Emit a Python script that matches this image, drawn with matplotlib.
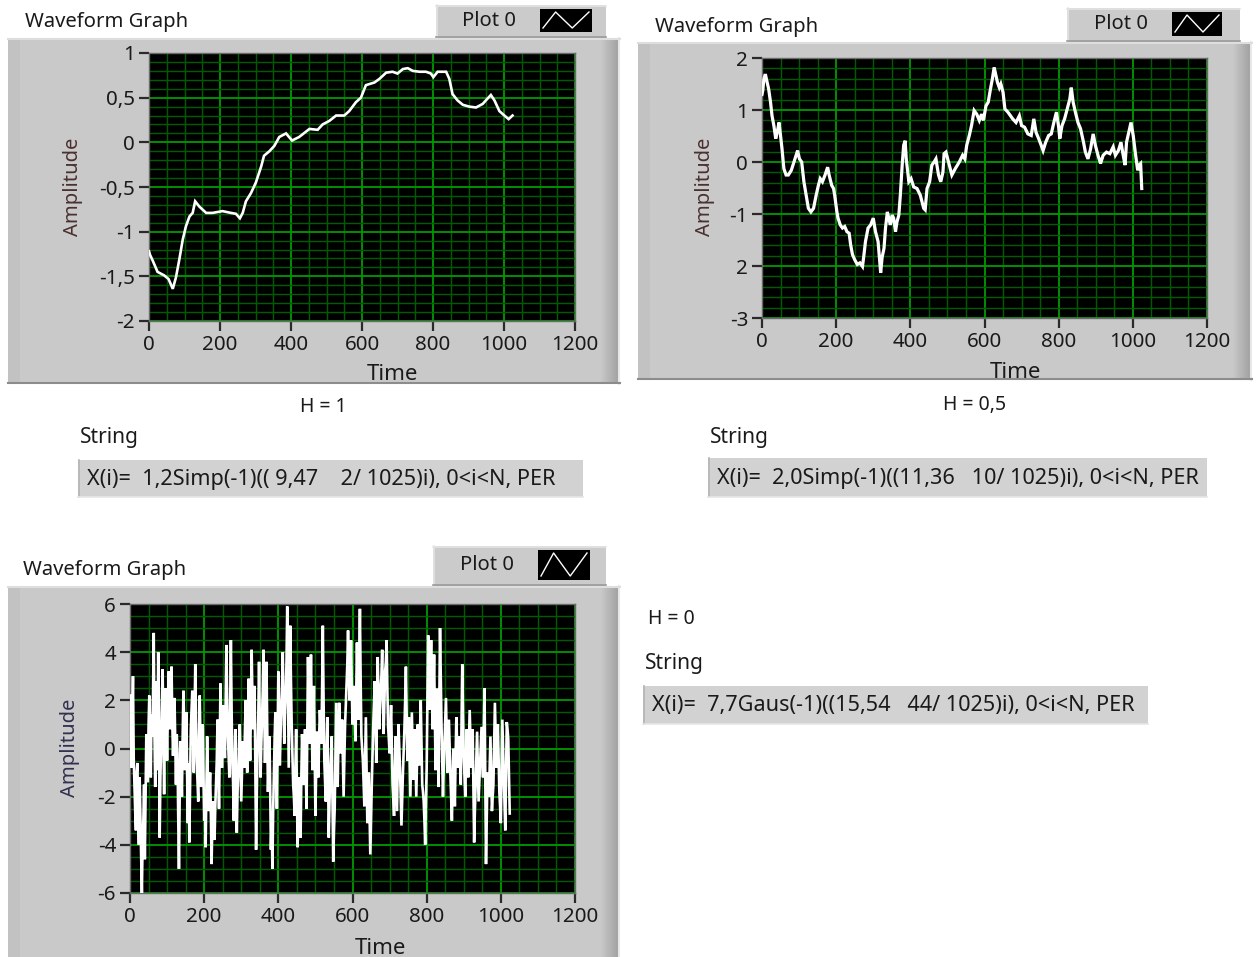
import matplotlib
matplotlib.use("Agg")
import matplotlib.pyplot as plt
from matplotlib.patches import Rectangle
from matplotlib.lines import Line2D
from matplotlib.ticker import FixedLocator, MultipleLocator
import numpy as np

# ---------------------------------------------------------------- data
# H = 1 : smooth fractal walk
h1_time = [0, 3, 10, 24, 43, 55, 67, 76, 85, 95,
           104, 114, 123, 130, 142, 161, 179, 207, 231, 245,
           256, 264, 273, 287, 301, 316, 324, 339, 353, 367,
           386, 403, 423, 452, 475, 489, 508, 527, 550, 564,
           583, 597, 611, 635, 649, 668, 686, 700, 715, 729,
           743, 762, 780, 794, 801, 813, 837, 846, 855, 869,
           884, 902, 921, 940, 949, 963, 973, 987, 1001, 1013,
           1024]
h1_vals = [-1.22, -1.26, -1.32, -1.45, -1.49, -1.53, -1.64, -1.51, -1.32, -1.09,
           -0.94, -0.83, -0.79, -0.66, -0.72, -0.79, -0.79, -0.77, -0.79, -0.80,
           -0.85, -0.79, -0.66, -0.57, -0.45, -0.27, -0.15, -0.10, -0.04, 0.06,
           0.10, 0.02, 0.06, 0.15, 0.14, 0.20, 0.24, 0.30, 0.30, 0.35,
           0.45, 0.50, 0.64, 0.67, 0.71, 0.78, 0.79, 0.77, 0.82, 0.83,
           0.80, 0.79, 0.79, 0.77, 0.73, 0.79, 0.79, 0.71, 0.54, 0.47,
           0.42, 0.40, 0.39, 0.43, 0.47, 0.53, 0.47, 0.35, 0.30, 0.26,
           0.30]

# H = 0,5 : Brownian-like walk
h05_time = [0, 2, 5, 9, 14, 18, 23, 27, 32, 37, 41, 46, 50, 54, 59, 65, 71, 79,
            86, 92, 96, 101, 107, 113, 119, 125, 132, 139, 146, 152, 157, 163,
            170, 177, 181, 188, 193, 196, 202, 205, 211, 217, 223, 229, 235, 239,
            244, 250, 257, 264, 271, 275, 279, 286, 293, 300, 306, 313, 316, 320,
            324, 329, 333, 338, 342, 346, 351, 355, 360, 364, 369, 373, 378, 382,
            386, 389, 396, 402, 409, 418, 427, 436, 440, 445, 452, 458, 464, 469,
            476, 482, 488, 491, 496, 503, 512, 521, 532, 541, 547, 552, 559, 565,
            572, 579, 586, 592, 597, 604, 610, 616, 621, 626, 631, 635, 640, 644,
            650, 655, 663, 670, 676, 685, 694, 700, 708, 717, 726, 733, 739, 746,
            753, 758, 765, 773, 780, 787, 794, 800, 803, 809, 816, 823, 830, 834,
            839, 845, 852, 859, 867, 872, 879, 886, 893, 899, 906, 913, 920, 929,
            938, 947, 953, 961, 968, 974, 979, 983, 989, 995, 1001, 1007, 1013,
            1017, 1021, 1024]
h05_vals = [1.30, 1.37, 1.59, 1.69, 1.53, 1.40, 1.15, 0.89, 0.70, 0.45, 0.57, 0.76,
            0.51, 0.25, -0.13, -0.25, -0.25, -0.16, 0.00, 0.13, 0.22, 0.06, 0.00,
            -0.38, -0.64, -0.89, -0.96, -0.89, -0.64, -0.45, -0.32, -0.38, -0.25,
            -0.10, -0.25, -0.45, -0.51, -0.64, -0.96, -1.08, -1.21, -1.27, -1.24,
            -1.34, -1.37, -1.59, -1.78, -1.88, -1.97, -1.94, -2.01, -1.78, -1.53,
            -1.27, -1.21, -1.08, -1.34, -1.53, -1.78, -2.13, -1.83, -1.66, -1.27,
            -0.96, -1.08, -1.21, -1.02, -1.08, -1.34, -1.15, -1.02, -0.64, -0.06,
            0.32, 0.41, 0.06, -0.38, -0.32, -0.48, -0.51, -0.64, -0.89, -0.92,
            -0.51, -0.38, -0.06, 0.00, 0.06, -0.25, -0.38, -0.19, 0.16, 0.19, 0.00,
            -0.25, -0.13, 0.00, 0.13, 0.06, 0.32, 0.51, 0.70, 0.99, 0.92, 0.80,
            0.92, 0.80, 1.08, 1.15, 1.40, 1.59, 1.82, 1.66, 1.53, 1.43, 1.50, 1.34,
            1.02, 0.96, 0.89, 0.83, 0.76, 0.89, 0.70, 0.67, 0.54, 0.51, 0.83, 0.57,
            0.45, 0.32, 0.22, 0.38, 0.51, 0.54, 0.76, 0.96, 0.67, 0.45, 0.70, 0.83,
            1.02, 1.21, 1.43, 1.15, 0.96, 0.76, 0.64, 0.38, 0.19, 0.06, 0.25, 0.54,
            0.32, 0.13, -0.03, 0.13, 0.19, 0.16, 0.29, 0.13, 0.22, 0.38, 0.13,
            -0.06, 0.38, 0.57, 0.76, 0.51, 0.16, -0.16, -0.06, -0.03, -0.51]

# H = 0 : Gaussian noise, read every 2 samples
# samples 0, 4, 8, ...
h0_even = [2.2, -0.8, 3.0, -1.5, -3.4, -0.6, -4.0, -2.9, -6.0, -3.0, -4.6, 0.6, -1.4,
           2.2, -1.2, 0.5, 4.8, -1.6, 1.2, 4.0, -3.7, 0.2, 3.3, -1.9, 2.5,
           -0.5, 3.2, 0.8, 3.4, -0.3, 2.1, -1.5, -0.2, -5.0, 0.3, -2.0, 2.4, -0.9,
           1.5, -3.1, -3.9, 0.8, 2.4, -1.0, 3.5, -0.5, -2.2, 2.2, -1.6, 1.0,
           -3.0, -4.1, 0.5, -2.6, -1.0, -4.8, -2.2, -3.8, -1.5, 1.2, -2.5, 2.7, -0.8,
           1.8, -0.4, 4.3, 0.5, -1.2, 4.5, -0.6, -3.0, 0.8, -3.5, -1.0, 1.0,
           -2.2, 0.3, -0.8, 2.0, -1.0, 2.9, -0.5, 4.1, 0.8, 2.6, -4.2, 0.0, 3.6,
           -1.2, 1.2, 4.1, -0.6, 3.6, -1.8, 0.5, -4.2, -5.0, -1.0, 1.5, -2.5,
           3.2, -0.7, 1.8, 4.0, 0.2, 2.2, 5.9, -0.8, 5.1, 1.0, -1.5, -2.8, 0.8,
           -4.1, -1.2, -3.7, 0.6, -1.5, 0.8, -2.5, 3.8, 0.2, 3.9, -0.9, 2.6,
           -2.8, 0.7, -1.2, 1.6, 0.2, 5.1, -0.5, -2.2, 1.3, -3.7, -1.0, 0.5, -4.7,
           -2.5, 1.9, -1.6, 1.9, -0.2, 1.2, -2.0, 1.0, 2.5, 4.9, 2.0, 4.5,
           1.0, 2.6, 0.3, 4.4, 1.2, 5.8, 0.5, -0.5, -2.4, 1.3, -3.1, -1.0, -4.4,
           -1.5, 1.0, 2.8, -0.6, 3.8, 0.8, 2.5, 4.1, 0.6, 3.2, 4.5, 0.9,
           -0.2, 1.8, -1.5, -2.8, 0.5, -2.6, 1.0, -0.8, -3.2, -1.0, 0.8, 3.4, -0.5,
           1.3, -2.0, 1.5, -1.3, 0.8, -2.0, 1.0, -0.7, 2.0, -1.5, -2.2, -4.0,
           -0.8, 4.7, 1.6, 4.5, 0.8, 3.9, -0.9, 2.5, -1.6, 5.0, 1.0, -2.0, 0.2,
           2.1, -1.0, 1.2, -1.1, -3.0, 0.0, -2.4, 1.3, -0.8, 0.5, -1.5, 3.5,
           -0.3, -2.0, 0.8, -1.2, 1.6, -0.8, 0.8, -3.9, -1.5, 0.7, -2.2, -0.5, 0.9,
           -1.2, 2.5, -4.8, -1.0, -2.0, 0.5, -2.6, -1.5, 1.9, -0.8, 1.0, -1.8,
           -3.1, 1.2, -1.2, -3.4, 1.1, 0.4, -2.7]
# samples 2, 6, 10, ...
h0_odd = [0.5, 1.2, -0.4, -2.6, -1.0, -2.8, -1.2, -4.4, -3.8, -1.5, -1.9, -0.8, 0.9,
          0.3, 1.4, 2.1, 0.6, 2.8, -0.9, 1.1, -1.2, 1.9, 0.4, 0.9, 1.3,
          1.5, 1.9, 2.5, 1.2, 0.8, 0.2, 0.6, -2.8, -2.0, -0.8, 0.5, 1.0, 0.4,
          -1.0, -0.6, -1.5, 1.6, 0.8, 1.4, 1.2, -1.4, 0.3, 0.2, -0.3, -0.9,
          -2.2, -1.6, -1.2, -1.8, -2.6, -3.1, -2.9, -2.4, -0.5, -0.7, 0.2, 0.9, 0.6,
          0.4, 1.9, 2.0, -0.4, 1.8, 1.6, -1.4, -0.9, -1.4, -1.8, 0.2, -0.6,
          -0.9, -0.2, 0.8, 0.4, 1.1, 0.9, 1.6, 2.2, 1.7, -0.8, -1.8, 1.4, 1.0,
          0.1, 2.4, 1.5, 1.2, 0.8, -0.6, -1.6, -3.0, -2.6, 0.4, -0.2, 0.5,
          1.1, 0.6, 2.6, 1.9, 1.5, 3.6, 2.4, 2.0, 2.8, -0.2, -2.0, -0.8, -1.6,
          -2.5, -2.6, -1.2, -0.4, -0.2, -0.9, 0.6, 1.8, 1.9, 1.4, 0.7, 0.0,
          -0.9, -0.3, 0.4, 0.9, 2.4, 2.0, -1.4, -0.3, -1.0, -2.2, -0.2, -2.0, -3.4,
          -0.4, 0.2, 0.3, 0.8, 0.5, -0.3, -0.4, 1.8, 3.5, 3.2, 3.0, 2.6,
          1.8, 1.4, 2.2, 2.6, 3.4, 2.8, 0.0, -1.4, -0.6, -0.9, -1.8, -2.6, -2.9,
          -0.2, 1.9, 1.0, 1.5, 2.2, 1.6, 3.0, 2.2, 1.9, 3.6, 2.5, 0.4,
          0.8, 0.2, -2.1, -1.0, -1.0, -0.8, 0.1, -2.0, -2.1, -0.1, 2.0, 1.4, 0.4,
          -0.4, -0.2, 0.1, -0.2, -0.6, -0.5, 0.2, 0.6, 0.3, -1.8, -3.0, -2.2,
          2.0, 3.0, 3.0, 2.5, 2.4, 1.4, 0.8, 0.4, 1.8, 3.0, -0.4, -0.8, 1.2,
          0.5, 0.1, 0.0, -2.0, -1.4, -1.2, -0.4, 0.2, -0.1, -0.5, 1.0, 1.4,
          -1.2, -0.6, -0.2, 0.2, 0.4, 0.0, -1.6, -2.6, -0.4, -0.8, -1.4, 0.2, -0.1,
          0.6, -1.2, -2.8, -1.6, -0.8, -1.0, -2.0, 0.2, 0.5, 0.1, -0.4, -2.4,
          -1.0, 0.0, -2.3, -1.2, 0.8, -1.2]
h0_step = 2

# axis ticks and labels
x_ticks = [0, 200, 400, 600, 800, 1000, 1200]
x_labels = ["0", "200", "400", "600", "800", "1000", "1200"]
g1_yticks = [1, 0.5, 0, -0.5, -1, -1.5, -2]
g1_ylabels = ["1", "0,5", "0", "-0,5", "-1", "-1,5", "-2"]
g2_yticks = [2, 1, 0, -1, -2, -3]
g2_ylabels = ["2", "1", "0", "-1", "2", "-3"]
g3_yticks = [6, 4, 2, 0, -2, -4, -6]
g3_ylabels = ["6", "4", "2", "0", "-2", "-4", "-6"]

g1_caption = "H = 1"
g2_caption = "H = 0,5"
g3_caption = "H = 0"
g1_string = "X(i)=  1,2Simp(-1)(( 9,47    2/ 1025)i), 0<i<N, PER"
g2_string = "X(i)=  2,0Simp(-1)((11,36   10/ 1025)i), 0<i<N, PER"
g3_string = "X(i)=  7,7Gaus(-1)((15,54   44/ 1025)i), 0<i<N, PER"

# merge the two H = 0 readings into one series
h0_vals = np.empty(len(h0_even) + len(h0_odd))
h0_vals[0::2] = h0_even
h0_vals[1::2] = h0_odd
h0_time = np.arange(len(h0_vals)) * h0_step

# ---------------------------------------------------------------- figure
W, H = 1258, 957
fig = plt.figure(figsize=(W / 100, H / 100), dpi=100)
fig.patch.set_facecolor("white")
FONT = ["Noto Sans", "DejaVu Sans"]
TXT = "#1a1a1a"


def fx(px):
    return px / W


def fy(py):
    return 1 - py / H


def box(x0, y0, x1, y1, color, z=0.0):
    r = Rectangle((fx(x0), fy(y1)), (x1 - x0) / W, (y1 - y0) / H,
                  transform=fig.transFigure, facecolor=color,
                  edgecolor="none", zorder=z)
    fig.add_artist(r)
    return r


def hline(x0, x1, y, color, lw=1.0, z=0.2):
    fig.add_artist(Line2D([fx(x0), fx(x1)], [fy(y), fy(y)],
                          transform=fig.transFigure, color=color, lw=lw, zorder=z))


def vline(x, y0, y1, color, lw=1.0, z=0.2):
    fig.add_artist(Line2D([fx(x), fx(x)], [fy(y0), fy(y1)],
                          transform=fig.transFigure, color=color, lw=lw, zorder=z))


def panel(x0, y0, x1, y1):
    base = box(x0, y0, x1, y1, "#c9c9c9", 0.0)
    # darker bevel towards the right edge
    n = 20
    for i in range(n):
        g = 0.79 - 0.17 * (i / (n - 1))
        box(x1 - n + i, y0, x1 - n + i + 1, y1, (g, g, g), 0.05)
    vline(x1 - 1, y0, y1, "#e8e8e8", 1.5, 0.1)
    # soft left shading
    box(x0, y0, x0 + 12, y1, "#c2c2c2", 0.05)
    hline(x0, x1, y0 + 0.5, "#dedede", 1.5, 0.1)
    hline(x0, x1, y1 - 1, "#8c8c8c", 1.5, 0.1)
    return base


def legend(x0, y0, x1, y1, sx0, sx1):
    box(x0, y0, x1, y1, "#cbcbcb", 0.3)
    hline(x0, x1, y0 + 0.5, "#e4e4e4", 1.2, 0.35)
    vline(x0 + 0.5, y0, y1, "#e4e4e4", 1.2, 0.35)
    hline(x0, x1, y1 - 1, "#9a9a9a", 1.2, 0.35)
    box(sx0, y0 + 4, sx1, y1 - 6, "black", 0.4)
    w = sx1 - sx0
    top, bot = y0 + 7, y1 - 10
    xs = [sx0 + 3, sx0 + 0.3 * w, sx0 + 0.62 * w, sx1 - 3]
    ys = [bot, top, bot, top]
    fig.add_artist(Line2D([fx(v) for v in xs], [fy(v) for v in ys],
                          transform=fig.transFigure, color="white", lw=1.0,
                          zorder=0.45))
    fig.text(fx((x0 + sx0) / 2 + 1), fy((y0 + y1) / 2 - 1), "Plot 0",
             fontsize=14.5, family=FONT, color=TXT, ha="center", va="center",
             zorder=0.5)


def graph(px, yticks, ylabels, ylim, yminor, time, vals, lw):
    x0, y0, x1, y1 = px
    ax = fig.add_axes([fx(x0), fy(y1), (x1 - x0) / W, (y1 - y0) / H])
    ax.set_facecolor("black")
    ax.plot(time, vals, color="white", lw=lw, solid_joinstyle="miter", zorder=3)
    ax.set_xlim(0, 1200)
    ax.set_ylim(*ylim)
    ax.xaxis.set_major_locator(FixedLocator(x_ticks))
    ax.set_xticklabels(x_labels)
    ax.xaxis.set_minor_locator(MultipleLocator(50))
    ax.yaxis.set_major_locator(FixedLocator(yticks))
    ax.set_yticklabels(ylabels)
    ax.yaxis.set_minor_locator(MultipleLocator(yminor))
    ax.grid(which="minor", color="#005c00", lw=1.0, zorder=1)
    ax.grid(which="major", color="#009a00", lw=1.3, zorder=1.2)
    ax.tick_params(which="minor", length=0)
    ax.tick_params(which="major", length=7, width=1.6, color="#2a2a2a",
                   labelsize=14.8, labelcolor=TXT, pad=3)
    for lab in ax.get_xticklabels() + ax.get_yticklabels():
        lab.set_family(FONT)
    for s in ax.spines.values():
        s.set_color("#6a6a6a")
        s.set_linewidth(1.0)
    ax.set_zorder(1)
    return ax


def clipped_text(x, y, s, clip_rect, **kw):
    t = fig.text(fx(x), fy(y), s, **kw)
    cx0, cy0, cx1, cy1 = clip_rect
    clip = Rectangle((fx(cx0), fy(cy1)), (cx1 - cx0) / W, (cy1 - cy0) / H,
                     transform=fig.transFigure)
    t.set_clip_path(clip)
    return t


def string_box(x0, y0, x1, y1, text):
    box(x0, y0, x1, y1, "#d2d2d2", 0.2)
    vline(x0 + 0.5, y0, y1, "#b4b4b4", 1.2, 0.25)
    hline(x0, x1, y1 - 0.5, "#e6e6e6", 1.2, 0.25)
    fig.text(fx(x0 + 9), fy((y0 + y1) / 2 + 1), text, fontsize=15.6,
             family=FONT, color=TXT, ha="left", va="center", zorder=0.3)


TITLE_FS = 14.6
AXLAB_FS = 14.5

# ---------------------------------------------------------------- graph 1
panel(8, 38, 620, 384)
legend(436, 5, 606, 38, 540, 592)
fig.text(fx(25), fy(22), "Waveform Graph", fontsize=TITLE_FS, family=FONT,
         color=TXT, ha="left", va="center")
graph((149, 53, 575, 321), g1_yticks, g1_ylabels, (-2, 1), 0.1,
      h1_time, h1_vals, 1.9)
fig.text(fx(73), fy(187), "Amplitude", fontsize=AXLAB_FS, family=FONT,
         color="#4a3030", rotation=90, ha="center", va="center")
clipped_text(392, 375, "Time", (8, 330, 620, 382), fontsize=16, family=FONT,
             color=TXT, ha="center", va="center")

# ---------------------------------------------------------------- graph 2
panel(638, 42, 1252, 380)
legend(1067, 8, 1240, 42, 1172, 1222)
fig.text(fx(655), fy(27), "Waveform Graph", fontsize=TITLE_FS, family=FONT,
         color=TXT, ha="left", va="center")
graph((762, 58, 1207, 318), g2_yticks, g2_ylabels, (-3, 2), 0.2,
      h05_time, h05_vals, 2.3)
fig.text(fx(705), fy(187), "Amplitude", fontsize=AXLAB_FS, family=FONT,
         color="#4a3030", rotation=90, ha="center", va="center")
clipped_text(1015, 372, "Time", (638, 330, 1252, 378), fontsize=16, family=FONT,
             color=TXT, ha="center", va="center")

# ---------------------------------------------------------------- graph 3
panel(8, 586, 620, 970)
legend(433, 546, 606, 586, 538, 590)
fig.text(fx(23), fy(570), "Waveform Graph", fontsize=TITLE_FS, family=FONT,
         color=TXT, ha="left", va="center")
graph((130, 604, 575, 893), g3_yticks, g3_ylabels, (-6, 6), 0.5,
      h0_time, h0_vals, 1.9)
fig.text(fx(70), fy(748), "Amplitude", fontsize=AXLAB_FS, family=FONT,
         color="#303050", rotation=90, ha="center", va="center")
fig.text(fx(380), fy(949), "Time", fontsize=16, family=FONT,
         color=TXT, ha="center", va="center")

# ---------------------------------------------------------------- strings
fig.text(fx(323), fy(407), g1_caption, fontsize=14, family=FONT, color=TXT,
         ha="center", va="center")
fig.text(fx(80), fy(438), "String", fontsize=15, family=FONT, color=TXT,
         ha="left", va="center")
string_box(78, 460, 583, 497, g1_string)

fig.text(fx(975), fy(405), g2_caption, fontsize=14, family=FONT, color=TXT,
         ha="center", va="center")
fig.text(fx(710), fy(437), "String", fontsize=15, family=FONT, color=TXT,
         ha="left", va="center")
string_box(708, 458, 1207, 497, g2_string)

fig.text(fx(648), fy(619), g3_caption, fontsize=14, family=FONT, color=TXT,
         ha="left", va="center")
fig.text(fx(645), fy(663), "String", fontsize=15, family=FONT, color=TXT,
         ha="left", va="center")
string_box(643, 686, 1148, 724, g3_string)

fig.savefig("out.png", dpi=100, facecolor="white")
